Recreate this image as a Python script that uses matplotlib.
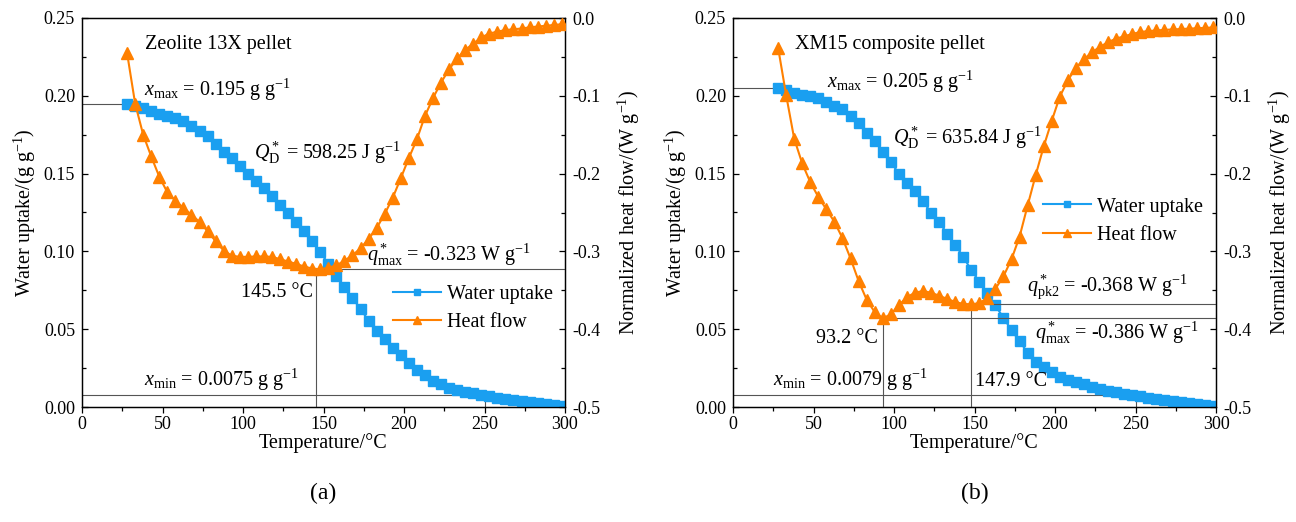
import matplotlib
matplotlib.use("Agg")
import matplotlib.pyplot as plt
from matplotlib.ticker import MultipleLocator
from matplotlib.lines import Line2D

plt.rcParams["font.family"] = ["Liberation Serif", "DejaVu Serif"]
plt.rcParams["mathtext.fontset"] = "custom"
plt.rcParams["mathtext.rm"] = "Liberation Serif"
plt.rcParams["mathtext.it"] = "Liberation Serif:italic"
plt.rcParams["mathtext.bf"] = "Liberation Serif:bold"

BLUE = "#1A9FF0"
ORANGE = "#FF8000"
GUIDE = "#555555"

# temperature grid of the TGA/DSC runs (degC)
temps = [28, 33, 38, 43, 48, 53, 58, 63, 68, 73, 78, 83, 88, 93, 98,
         103, 108, 113, 118, 123, 128, 133, 138, 143, 148, 153, 158, 163,
         168, 173, 178, 183, 188, 193, 198, 203, 208, 213, 218, 223, 228,
         233, 238, 243, 248, 253, 258, 263, 268, 273, 278, 283, 288, 293, 298]

# (a) zeolite 13X pellet
uptake_a = [0.195, 0.1935, 0.192, 0.190, 0.1885, 0.187, 0.186, 0.1835, 0.1805,
            0.1775, 0.174, 0.169, 0.164, 0.160, 0.155, 0.150, 0.1455, 0.1405,
            0.1355, 0.130, 0.1245, 0.119, 0.113, 0.1065, 0.0995, 0.092, 0.0845,
            0.077, 0.070, 0.063, 0.0555, 0.049, 0.0435, 0.038, 0.0335, 0.0285,
            0.024, 0.0205, 0.017, 0.0145, 0.0125, 0.011, 0.0097, 0.0087, 0.0077,
            0.0068, 0.006, 0.0052, 0.0045, 0.0038, 0.0031, 0.0025, 0.0019,
            0.0013, 0.0008]
heat_a = [-0.045, -0.110, -0.150, -0.178, -0.204, -0.224, -0.235, -0.244,
          -0.253, -0.262, -0.274, -0.287, -0.299, -0.3055, -0.307, -0.307,
          -0.3065, -0.3065, -0.307, -0.310, -0.313, -0.316, -0.3195, -0.322,
          -0.323, -0.321, -0.318, -0.312, -0.305, -0.296, -0.284, -0.270,
          -0.252, -0.231, -0.206, -0.180, -0.156, -0.126, -0.103, -0.083,
          -0.066, -0.052, -0.041, -0.033, -0.025, -0.020, -0.0175, -0.0155,
          -0.0145, -0.0135, -0.012, -0.011, -0.010, -0.009, -0.008]

# (b) XM15 composite pellet
uptake_b = [0.205, 0.2035, 0.202, 0.2008, 0.1998, 0.1985, 0.1963, 0.1937,
            0.1912, 0.1872, 0.1822, 0.1762, 0.1707, 0.164, 0.1575, 0.150,
            0.1438, 0.1385, 0.1322, 0.125, 0.1188, 0.1115, 0.1043, 0.0965,
            0.088, 0.0805, 0.0733, 0.0653, 0.0572, 0.0495, 0.0422, 0.035,
            0.0292, 0.0256, 0.0224, 0.0195, 0.0171, 0.0158, 0.0145, 0.0129,
            0.0116, 0.0105, 0.0096, 0.0085, 0.0076, 0.0068, 0.006, 0.0052,
            0.0045, 0.0038, 0.0031, 0.0025, 0.0019, 0.0014, 0.0009]
heat_b = [-0.038, -0.099, -0.155, -0.187, -0.211, -0.230, -0.246, -0.262,
          -0.283, -0.309, -0.338, -0.362, -0.378, -0.386, -0.381, -0.369,
          -0.359, -0.353, -0.351, -0.353, -0.357, -0.361, -0.365, -0.3675,
          -0.368, -0.3665, -0.360, -0.348, -0.332, -0.310, -0.281, -0.241,
          -0.202, -0.165, -0.132, -0.101, -0.080, -0.064, -0.053, -0.044,
          -0.037, -0.031, -0.0265, -0.0235, -0.0205, -0.018, -0.0168, -0.016,
          -0.0153, -0.0147, -0.0142, -0.0137, -0.0132, -0.0127, -0.0122]

# characteristic values
xmax_a, xmin_a, qd_a = 0.195, 0.0075, 598.25
tpk_a, qmax_a = 145.5, -0.323
xmax_b, xmin_b, qd_b = 0.205, 0.0079, 635.84
tpk1_b, qmax_b = 93.2, -0.386
tpk2_b, qpk2_b = 147.9, -0.368

FS = 14.5
TICK_FS = 13

fig = plt.figure(figsize=(12.96, 5.22), dpi=100)
ax_a = fig.add_axes([82 / 1296, 115 / 522, 483 / 1296, 389 / 522])
ax_b = fig.add_axes([733 / 1296, 115 / 522, 483 / 1296, 389 / 522])


def setup(ax):
    ax2 = ax.twinx()
    ax.set_xlim(0, 300)
    ax.set_ylim(0, 0.25)
    ax2.set_ylim(-0.5, 0.0)
    ax.xaxis.set_major_locator(MultipleLocator(50))
    ax.xaxis.set_minor_locator(MultipleLocator(25))
    ax.yaxis.set_major_locator(MultipleLocator(0.05))
    ax.yaxis.set_minor_locator(MultipleLocator(0.025))
    ax2.yaxis.set_major_locator(MultipleLocator(0.1))
    ax2.yaxis.set_minor_locator(MultipleLocator(0.05))
    ax.yaxis.set_major_formatter(lambda v, p: f"{v:.2f}")
    ax2.yaxis.set_major_formatter(lambda v, p: "0.0" if abs(v) < 1e-9 else f"{v:.1f}")
    ax.tick_params(axis="x", which="both", direction="out", top=False,
                   labelsize=TICK_FS, pad=2)
    ax.tick_params(axis="y", which="both", direction="in", right=False,
                   labelsize=TICK_FS, pad=5)
    ax2.tick_params(axis="y", which="both", direction="in",
                    labelsize=TICK_FS, pad=5)
    # top axis ticks pointing inwards
    ax2.tick_params(axis="x", which="both", direction="in", top=True,
                    bottom=False, labeltop=False, labelbottom=False)
    for a in (ax, ax2):
        a.tick_params(which="major", length=4.5, width=0.9)
        a.tick_params(which="minor", length=3, width=0.9)
        for s in a.spines.values():
            s.set_linewidth(0.9)
    ax.set_xlabel("Temperature/°C", fontsize=FS, labelpad=0)
    ax.set_ylabel("Water uptake/(g g$^{-1}$)", fontsize=FS, labelpad=4)
    ax2.set_ylabel("Normalized heat flow/(W g$^{-1}$)", fontsize=FS, labelpad=11)
    return ax2


def curves(ax, ax2, uptake, heat):
    ax.plot(temps, uptake, color=BLUE, lw=1.5, marker="s", ms=7, mec=BLUE,
            mfc=BLUE, zorder=3)
    ax2.plot(temps, heat, color=ORANGE, lw=1.5, marker="^", ms=8, mec=ORANGE,
             mfc=ORANGE, zorder=3)


def legend(ax2, x, y):
    handles = [Line2D([], [], color=BLUE, lw=1.5, marker="s", ms=5),
               Line2D([], [], color=ORANGE, lw=1.5, marker="^", ms=6)]
    ax2.legend(handles, ["Water uptake", "Heat flow"], loc="center left",
               bbox_to_anchor=(x, y), bbox_transform=ax2.transData,
               frameon=False, fontsize=FS, handlelength=2.4,
               handletextpad=0.3, labelspacing=0.45, borderpad=0,
               borderaxespad=0)


gl = dict(color=GUIDE, lw=0.8, zorder=1)

# ---- (a) ----
ax2_a = setup(ax_a)
ax_a.plot([0, temps[0]], [xmax_a, xmax_a], **gl)
ax_a.plot([0, 250, 250], [xmin_a, xmin_a, 0], **gl)
ax2_a.plot([tpk_a, tpk_a, 300], [-0.5, qmax_a, qmax_a], **gl)
curves(ax_a, ax2_a, uptake_a, heat_a)
ax_a.text(39, 0.2327, "Zeolite 13X pellet", fontsize=FS, va="center")
ax_a.text(38.5, 0.2037, r"$x_{\rm max}$ = %.3f g g$^{-1}$" % xmax_a,
          fontsize=FS, va="center")
ax_a.text(107, 0.1632, r"$Q^*_{\rm D}$ = %.2f J g$^{-1}$" % qd_a,
          fontsize=FS, va="center")
ax_a.text(177, 0.0977, r"$q^*_{\rm max}$ = %.3f W g$^{-1}$" % qmax_a,
          fontsize=FS, va="center")
ax_a.text(143.5, 0.0739, f"{tpk_a} °C", fontsize=FS, va="center", ha="right")
ax_a.text(38.5, 0.0174, r"$x_{\rm min}$ = %.4f g g$^{-1}$" % xmin_a,
          fontsize=FS, va="center")
legend(ax2_a, 193, -0.373)

# ---- (b) ----
ax2_b = setup(ax_b)
ax_b.plot([0, temps[0]], [xmax_b, xmax_b], **gl)
ax_b.plot([0, 250, 250], [xmin_b, xmin_b, 0], **gl)
ax2_b.plot([tpk1_b, tpk1_b, 300], [-0.5, qmax_b, qmax_b], **gl)
ax2_b.plot([tpk2_b, tpk2_b, 300], [-0.5, qpk2_b, qpk2_b], **gl)
curves(ax_b, ax2_b, uptake_b, heat_b)
ax_b.text(38.5, 0.2327, "XM15 composite pellet", fontsize=FS, va="center")
ax_b.text(58.4, 0.2089, r"$x_{\rm max}$ = %.3f g g$^{-1}$" % xmax_b,
          fontsize=FS, va="center")
ax_b.text(99.4, 0.1729, r"$Q^*_{\rm D}$ = %.2f J g$^{-1}$" % qd_b,
          fontsize=FS, va="center")
ax_b.text(182.6, 0.0771, r"$q^*_{\rm pk2}$ = %.3f W g$^{-1}$" % qpk2_b,
          fontsize=FS, va="center")
ax_b.text(187.6, 0.0476, r"$q^*_{\rm max}$ = %.3f W g$^{-1}$" % qmax_b,
          fontsize=FS, va="center")
ax_b.text(90.1, 0.0443, f"{tpk1_b} °C", fontsize=FS, va="center", ha="right")
ax_b.text(150.3, 0.0161, f"{tpk2_b} °C", fontsize=FS, va="center")
ax_b.text(24.8, 0.0174, r"$x_{\rm min}$ = %.4f g g$^{-1}$" % xmin_b,
          fontsize=FS, va="center")
legend(ax2_b, 192.5, -0.261)

fig.text((82 + 565) / 2 / 1296, 1 - 493 / 522, "(a)", fontsize=17,
         ha="center", va="center")
fig.text((733 + 1216) / 2 / 1296, 1 - 493 / 522, "(b)", fontsize=17,
         ha="center", va="center")

fig.savefig("out.png", dpi=100)
